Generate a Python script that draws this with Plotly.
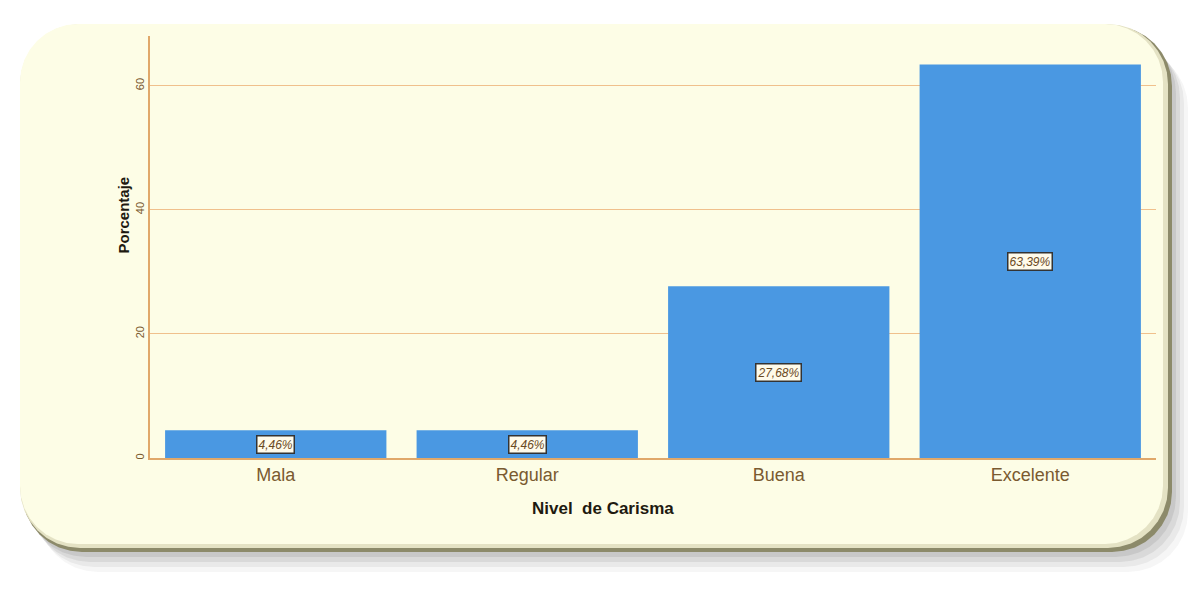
import plotly.graph_objects as go

categories = ["Mala", "Regular", "Buena", "Excelente"]
percentages = [4.46, 4.46, 27.68, 63.39]
value_labels = ["4,46%", "4,46%", "27,68%", "63,39%"]
y_ticks = [0, 20, 40, 60]

W, H = 1196, 594
L, R, T, B = 150, 40, 36, 136
PW, PH = W - L - R, H - T - B

def px(x):
    return (x - L) / PW

def py(y):
    return (H - B - y) / PH

def rounded_path(x0, y0, x1, y1, r):
    import math
    pts = []
    corners = [(x1 - r, y0 + r, -90, 0), (x1 - r, y1 - r, 0, 90),
               (x0 + r, y1 - r, 90, 180), (x0 + r, y0 + r, 180, 270)]
    for cx, cy, a0, a1 in corners:
        for k in range(9):
            a = math.radians(a0 + (a1 - a0) * k / 8)
            pts.append((cx + r * math.cos(a), cy + r * math.sin(a)))
    d = "M " + " L ".join(f"{px(x):.5f},{py(y):.5f}" for x, y in pts) + " Z"
    return d

fig = go.Figure()
fig.add_trace(go.Bar(
    x=categories, y=percentages,
    marker=dict(color="#4a98e2", line=dict(width=0)),
    hoverinfo="x+y",
))

shapes = []
# shadow layers
for dx, dy, op in [(16, 20, 0.06), (12, 15, 0.09), (8, 10, 0.12), (4, 5, 0.15)]:
    shapes.append(dict(type="path", xref="paper", yref="paper", layer="below",
                       path=rounded_path(22 + dx, 28 + dy, 1172 + dx, 552 + dy, 60),
                       fillcolor=f"rgba(110,110,110,{op})", line=dict(width=0)))
# bevel edge
shapes.append(dict(type="path", xref="paper", yref="paper", layer="below",
                   path=rounded_path(22, 26, 1172, 552, 60),
                   fillcolor="#8c8a6a", line=dict(width=0)))
shapes.append(dict(type="path", xref="paper", yref="paper", layer="below",
                   path=rounded_path(20, 24, 1168, 548, 60),
                   fillcolor="#e4e2c4", line=dict(width=0)))
shapes.append(dict(type="path", xref="paper", yref="paper", layer="below",
                   path=rounded_path(20, 24, 1163, 544, 58),
                   fillcolor="#fdfde6", line=dict(width=0)))

annotations = []
for c, v, t in zip(categories, percentages, value_labels):
    annotations.append(dict(x=c, y=v / 2, text=f"<i>{t}</i>", showarrow=False,
                            font=dict(size=12, color="#6b4a1f", family="Arial, Liberation Sans"),
                            bgcolor="#fffbea", bordercolor="#333333", borderwidth=1.5, borderpad=1))
annotations.append(dict(x=0.45, y=py(520), xref="paper", yref="paper", showarrow=False,
                        text="<b>Nivel  de Carisma</b>",
                        font=dict(size=17, color="#1e1a10", family="Arial, Liberation Sans")))
annotations.append(dict(x=px(112), y=py(215), xref="paper", yref="paper", showarrow=False,
                        text="<b>Porcentaje</b>", textangle=-90,
                        font=dict(size=15, color="#1e1a10", family="Arial, Liberation Sans")))

fig.update_layout(
    width=W, height=H,
    margin=dict(l=L, r=R, t=T, b=B),
    paper_bgcolor="white", plot_bgcolor="rgba(0,0,0,0)",
    bargap=0.12,
    showlegend=False,
    shapes=shapes,
    annotations=annotations,
    font=dict(family="Arial, Liberation Sans"),
    xaxis=dict(showline=True, linecolor="#e0a86a", linewidth=1.5,
               tickfont=dict(size=18, color="#7a5a30"), ticks="", showgrid=False),
    yaxis=dict(range=[0, 68], tickvals=y_ticks, tickangle=-90,
               tickfont=dict(size=11, color="#7a5a30"),
               showline=True, linecolor="#e0a86a", linewidth=1.5,
               gridcolor="#f0c08c", gridwidth=1.2, zeroline=False, ticks=""),
)

fig.write_html("out.html")
